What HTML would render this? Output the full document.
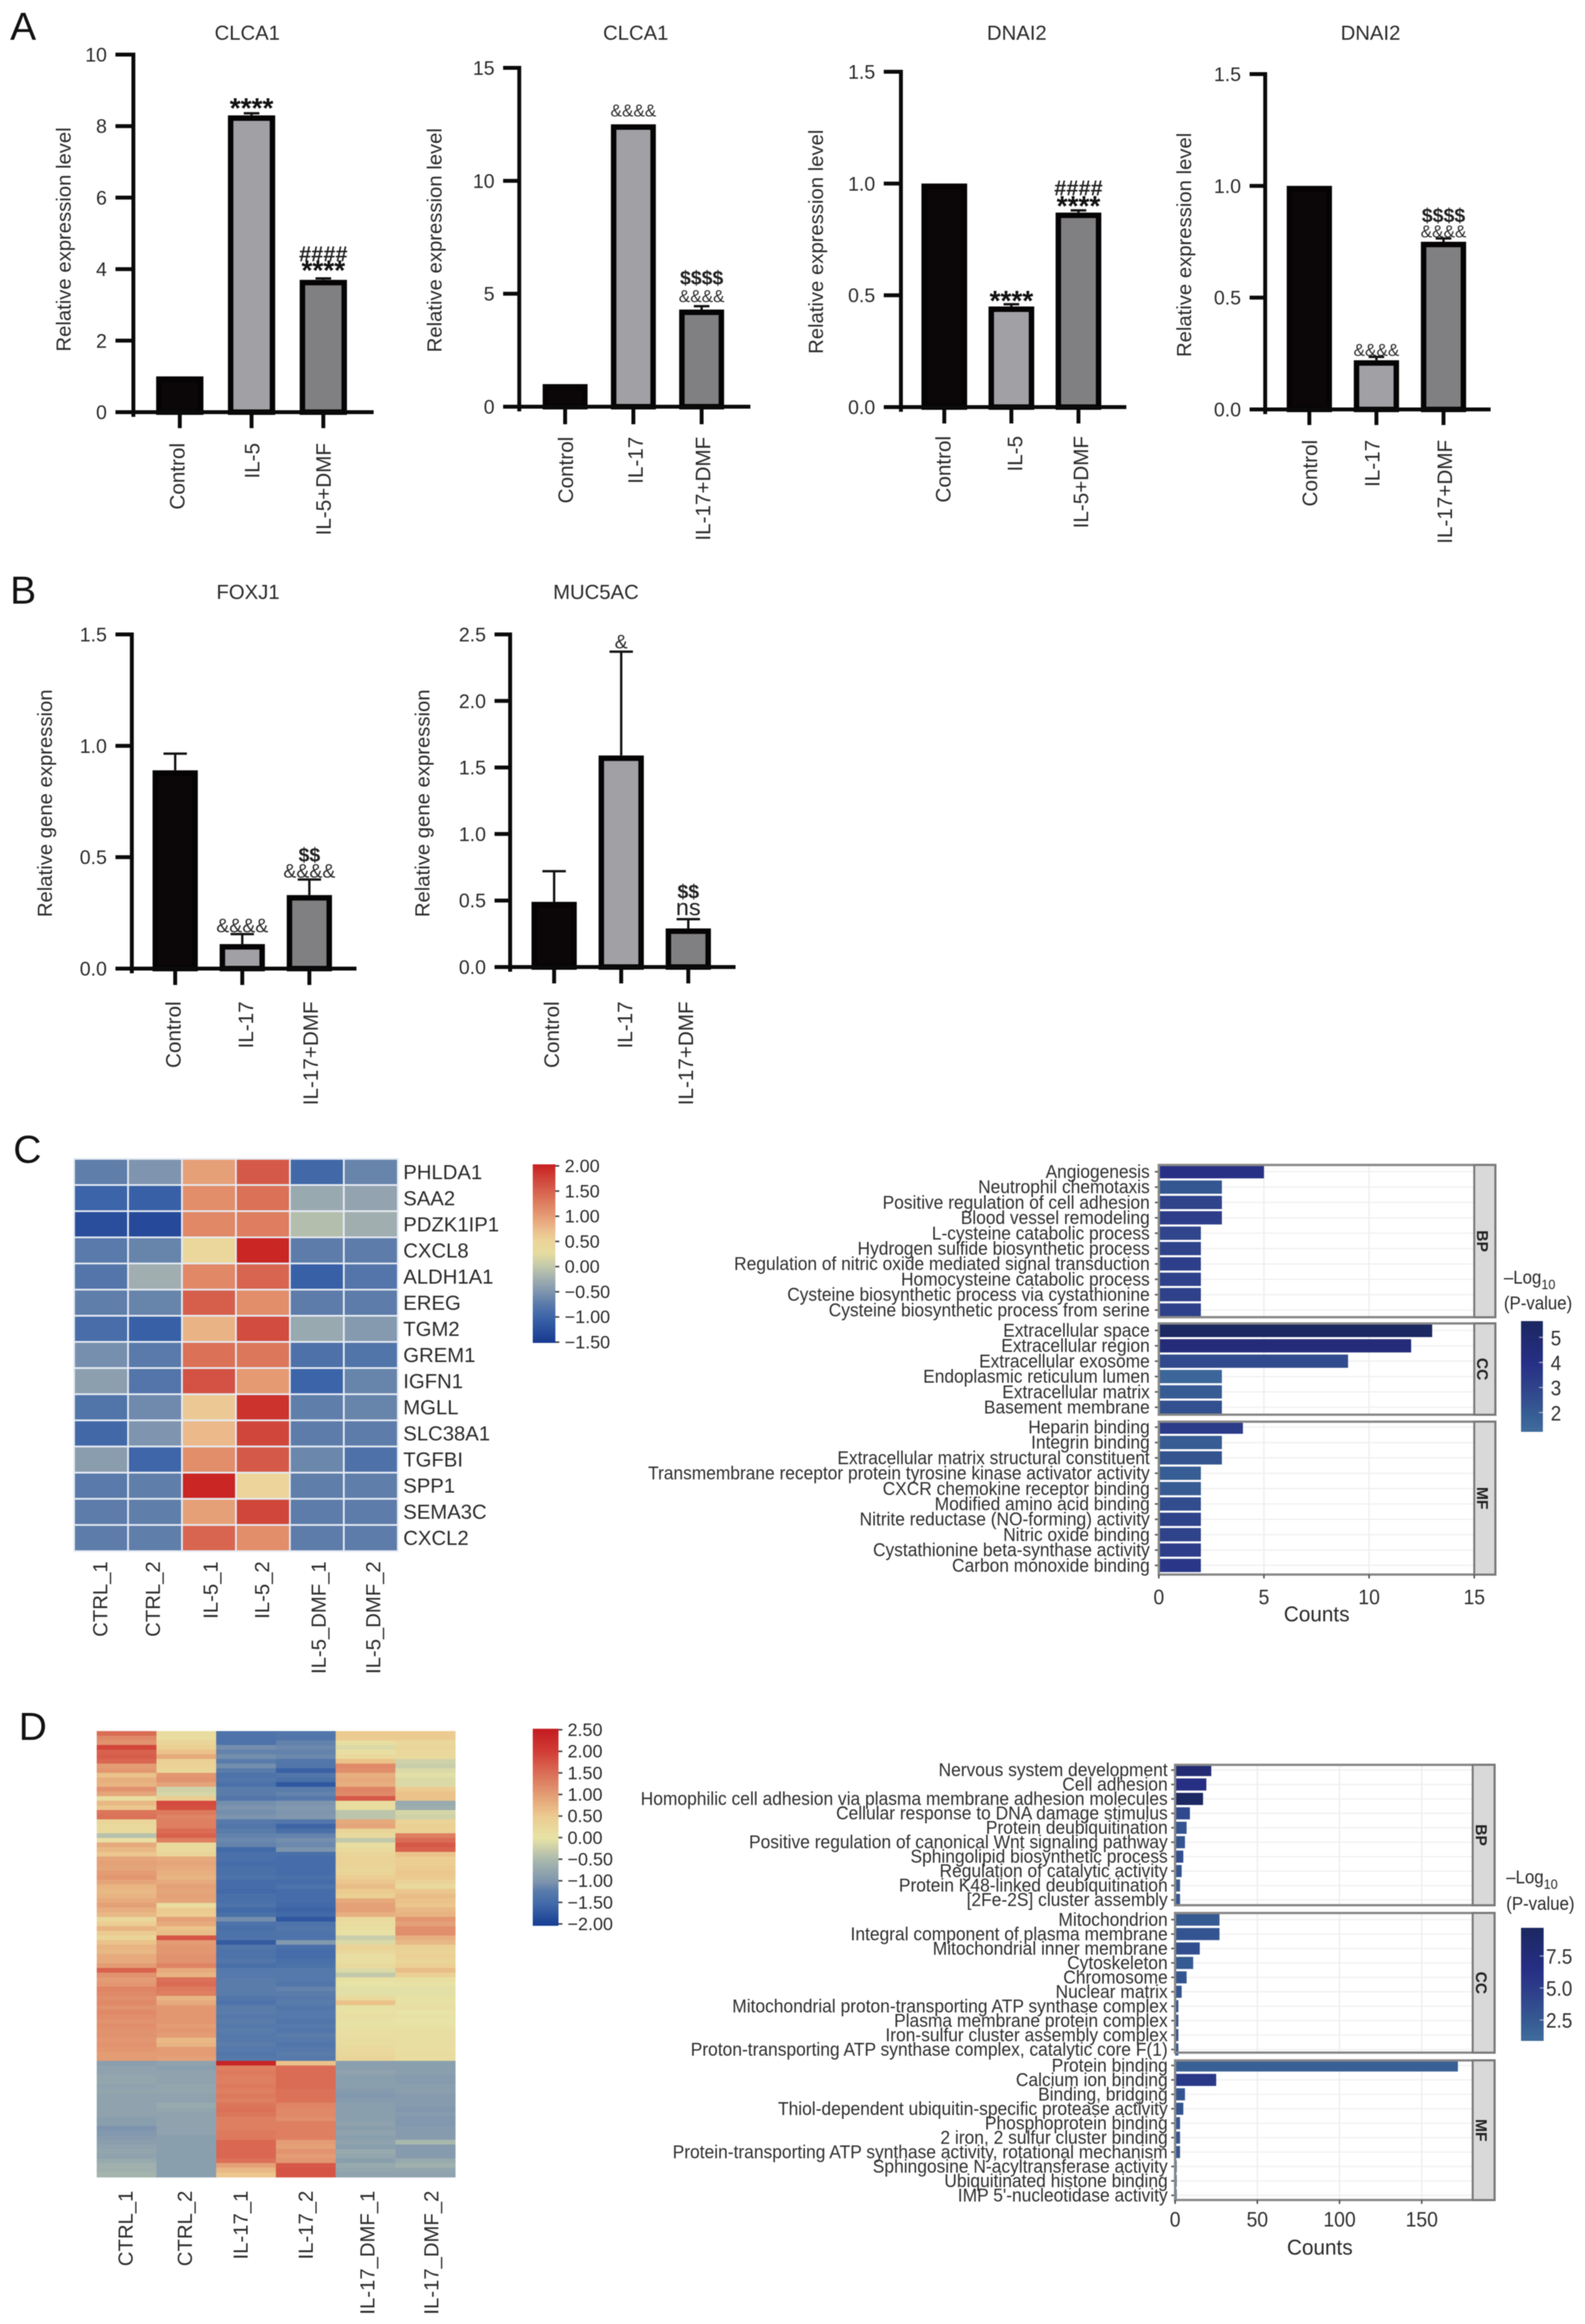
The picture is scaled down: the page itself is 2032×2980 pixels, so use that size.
<!DOCTYPE html>
<html lang="en">
<head>
<meta charset="utf-8">
<title>Expression bar charts, heatmaps and GO enrichment</title>
<style>
html,body{margin:0;padding:0;background:#fff;}
#figure{display:block;width:2032px;height:2980px;filter:blur(0.6px);font-family:"Liberation Sans",sans-serif;}
</style>
</head>
<body>
<svg id="figure" xmlns="http://www.w3.org/2000/svg" width="2032" height="2980" viewBox="0 0 2032 2980">
<defs id="grads"></defs>
<rect x="0" y="0" width="2032" height="2980" fill="#fff"></rect>
<text x="13" y="51" font-size="50" fill="#111">A</text>
<text x="13" y="774" font-size="50" fill="#111">B</text>
<text x="17" y="1491" font-size="50" fill="#111">C</text>
<text x="24" y="2231" font-size="50" fill="#111">D</text>
</svg>
<script>
/* ---------- Panel A / B bar chart data ---------- */
const a1Categories = ['Control', 'IL-5', 'IL-5+DMF'];
const a1Values = [1, 8.3, 3.7];
const a1Errors = [1, 8.36, 3.74];
const a1Ticks = [0, 2, 4, 6, 8, 10];
const a1Marks = [[], ['****'], ['****', '####']];

const a2Categories = ['Control', 'IL-17', 'IL-17+DMF'];
const a2Values = [1, 12.5, 4.3];
const a2Errors = [1, 12.5, 4.45];
const a2Ticks = [0, 5, 10, 15];
const a2Marks = [[], ['&&&&'], ['&&&&', '$$$$']];

const a3Categories = ['Control', 'IL-5', 'IL-5+DMF'];
const a3Values = [1, 0.45, 0.87];
const a3Errors = [1, 0.46, 0.88];
const a3Ticks = [0, 0.5, 1, 1.5];
const a3Marks = [[], ['****'], ['****', '####']];

const a4Categories = ['Control', 'IL-17', 'IL-17+DMF'];
const a4Values = [1, 0.22, 0.75];
const a4Errors = [1, 0.235, 0.765];
const a4Ticks = [0, 0.5, 1, 1.5];
const a4Marks = [[], ['&&&&'], ['&&&&', '$$$$']];

const b1Categories = ['Control', 'IL-17', 'IL-17+DMF'];
const b1Values = [0.89, 0.11, 0.33];
const b1Errors = [0.965, 0.155, 0.40];
const b1Ticks = [0, 0.5, 1, 1.5];
const b1Marks = [[], ['&&&&'], ['&&&&', '$$']];

const b2Categories = ['Control', 'IL-17', 'IL-17+DMF'];
const b2Values = [0.49, 1.59, 0.29];
const b2Errors = [0.72, 2.37, 0.36];
const b2Ticks = [0, 0.5, 1, 1.5, 2, 2.5];
const b2Marks = [[], ['&'], ['ns', '$$']];

/* ---------- Panel C heatmap data ---------- */
const cGenes = ['PHLDA1','SAA2','PDZK1IP1','CXCL8','ALDH1A1','EREG','TGM2','GREM1','IGFN1','MGLL','SLC38A1','TGFBI','SPP1','SEMA3C','CXCL2'];
const cSamples = ['CTRL_1','CTRL_2','IL-5_1','IL-5_2','IL-5_DMF_1','IL-5_DMF_2'];
const cMatrix = [
[-0.7,-0.5,0.95,1.55,-0.95,-0.65],
[-1.0,-1.05,1.1,1.35,-0.3,-0.35],
[-1.25,-1.3,1.15,1.25,-0.1,-0.25],
[-0.75,-0.65,0.45,1.95,-0.72,-0.72],
[-0.8,-0.25,1.15,1.45,-1.05,-0.8],
[-0.7,-0.65,1.5,1.1,-0.72,-0.72],
[-0.9,-1.05,0.8,1.65,-0.3,-0.45],
[-0.55,-0.75,1.35,1.3,-0.85,-0.82],
[-0.4,-0.8,1.6,1.0,-1.0,-0.65],
[-0.82,-0.6,0.6,1.85,-0.7,-0.65],
[-0.95,-0.5,0.75,1.7,-0.72,-0.72],
[-0.42,-0.98,1.1,1.55,-0.62,-0.85],
[-0.75,-0.7,1.95,0.5,-0.7,-0.7],
[-0.72,-0.7,0.95,1.7,-0.72,-0.72],
[-0.72,-0.7,1.45,1.1,-0.72,-0.72]
];
const cScaleValues = [-1.5,-1,-0.7,-0.5,-0.25,0,0.25,0.5,0.75,1,1.5,2];
const cScaleColors = ['#17388f','#3c64a8','#5f7eaa','#7f95af','#a0aeb0','#c2c8ab','#e5dca0','#ecd49a','#ebb98a','#e59a72','#d65f4c','#c7201f'];
const cLegendTicks = [2,1.5,1,0.5,0,-0.5,-1,-1.5];

/* ---------- Panel D heatmap data ---------- */
const dSamples = ['CTRL_1','CTRL_2','IL-17_1','IL-17_2','IL-17_DMF_1','IL-17_DMF_2'];
const dMatrix = [
[1.5,0.15,-1.35,-1.3,0.5,0.5],[1.2,0.15,-1.35,-1.3,0.5,0.5],[1.1,0.3,-1.35,-1.15,0.1,0.25],[1.9,0.4,-1.05,-1.1,-0.1,0.3],
[1.6,0.6,-1.15,-1.15,0.1,0.25],[1.65,0.85,-1.05,-1.1,0.2,0.2],[1.55,0.4,-1.2,-1.3,0.6,-0.2],[1.0,0.35,-1.05,-1.3,1.2,-0.25],
[1.05,0.3,-1.2,-1.6,1.15,-0.1],[0.6,1.05,-1.35,-1.3,0.8,-0.05],[0.8,1.1,-1.3,-1.4,0.85,-0.1],[0.75,0.9,-1.4,-1.7,0.8,-0.1],
[1.1,-0.2,-1.2,-1.2,1.25,0.5],[0.9,-0.15,-1.2,-1.15,1.2,0.6],[0.15,0.45,-1.3,-1.25,1.7,0.6],[0.7,1.85,-1.05,-1.0,0.15,-0.7],
[0.55,1.8,-1.0,-0.95,0.15,-0.65],[1.4,1.35,-1.05,-0.98,-0.35,-0.15],[1.45,1.25,-1.0,-0.95,-0.35,-0.2],[0.3,1.3,-1.25,-1.3,0.85,0.35],
[0.2,1.3,-1.3,-1.55,0.9,0.4],[0.2,1.5,-1.2,-1.4,0.3,0.35],[-0.4,1.6,-1.15,-1.15,0.2,1.3],[0.1,1.3,-1.1,-1.05,-0.3,1.5],
[0.85,0.2,-1.15,-1.1,0.1,1.7],[0.7,0.2,-1.5,-1.0,0.2,1.6],[0.55,0.3,-1.4,-1.4,0.3,0.6],[0.9,0.85,-1.4,-1.45,0.35,0.45],
[0.95,0.9,-1.45,-1.45,0.35,0.45],[0.9,0.85,-1.4,-1.45,0.3,0.5],[1.0,0.8,-1.4,-1.45,0.3,0.55],[1.05,0.75,-1.35,-1.4,0.45,0.5],
[0.9,0.85,-1.45,-1.45,0.55,0.35],[0.75,0.95,-1.45,-1.35,0.65,0.2],[0.7,0.9,-1.5,-1.45,0.5,0.55],[0.75,0.95,-1.4,-1.45,0.4,0.65],
[0.85,0.9,-1.4,-1.45,0.85,0.6],[0.95,0.15,-1.35,-1.5,0.95,0.55],[0.8,0.5,-1.5,-1.55,0.95,0.7],[0.7,0.45,-1.4,-1.5,0.8,0.75],
[0.25,0.95,-1.05,-1.7,0.2,1.05],[0.45,0.85,-1.35,-1.35,0.15,0.95],[0.75,0.6,-1.4,-1.3,0.1,1.15],[0.5,0.65,-1.35,-1.35,0.05,1.15],
[0.3,1.75,-1.35,-1.35,-0.25,0.8],[0.6,1.0,-1.65,-0.95,-0.1,0.7],[0.75,1.05,-1.3,-1.4,0.35,0.4],[0.7,1.05,-1.35,-1.45,0.25,0.35],
[0.85,1.1,-1.35,-1.45,0.1,0.4],[0.85,1.1,-1.3,-1.4,0.1,0.3],[1.0,1.25,-1.4,-1.35,0.2,0.4],[1.6,0.85,-1.25,-1.25,-0.1,0.65],
[1.1,0.75,-1.25,-1.25,-0.3,0.4],[1.0,1.45,-1.2,-1.25,0.05,0.1],[1.05,1.5,-1.2,-1.3,0,0.05],[1.25,1.35,-1.2,-1.15,-0.05,-0.05],
[1.2,1.3,-1.2,-1.2,-0.05,-0.05],[1.15,0.75,-1.3,-1.25,0.2,0.05],[1.2,0.85,-1.35,-1.2,0.6,0.05],[1.1,1.05,-1.2,-1.3,0.05,0.1],
[1.2,1.05,-1.2,-1.25,0.05,0],[1.15,1.05,-1.25,-1.25,0.1,0.05],[1.1,1.05,-1.2,-1.3,0.05,0],[1.15,1.0,-1.25,-1.25,0.05,0.05],
[1.1,1.05,-1.2,-1.3,0.1,0.1],[1.1,1.0,-1.25,-1.2,0.1,0.1],[1.05,0.7,-1.25,-1.25,0.15,0.1],[1.1,0.75,-1.2,-1.3,0.15,0.1],
[1.05,1.0,-1.25,-1.25,0.2,0.1],[1.0,1.0,-1.3,-1.2,0.25,0.15],[1.0,0.95,-1.25,-1.25,0.3,0.15],
[-0.85,-0.8,2.35,0.6,-0.85,-0.85],[-0.8,-0.85,1.3,1.5,-0.85,-0.85],[-0.8,-0.8,1.35,1.5,-0.8,-0.85],[-0.75,-0.8,1.3,1.5,-0.85,-0.9],
[-0.75,-0.8,1.3,1.5,-0.85,-0.9],[-0.8,-0.75,1.35,1.5,-0.85,-0.85],[-0.75,-0.75,1.3,1.45,-0.9,-0.85],[-0.8,-0.8,1.35,1.45,-0.95,-0.9],
[-0.8,-0.8,1.3,1.45,-0.9,-0.9],[-0.8,-0.7,1.4,1.25,-0.85,-0.9],[-0.8,-0.75,1.45,1.2,-0.85,-0.95],[-0.8,-0.8,1.4,1.2,-0.85,-0.9],
[-0.85,-0.8,1.3,1.15,-0.85,-0.95],[-0.85,-0.8,1.3,1.3,-0.8,-0.95],[-1.0,-0.8,1.3,1.3,-0.85,-0.9],[-0.95,-0.8,1.35,1.3,-0.8,-0.9],
[-0.9,-0.85,1.35,1.3,-0.85,-0.9],[-0.85,-0.85,1.55,1.0,-0.8,-0.5],[-0.8,-0.85,1.55,0.95,-0.85,-0.9],[-0.75,-0.85,1.55,1.1,-0.7,-0.9],
[-0.8,-0.85,1.55,1.0,-0.75,-0.9],[-0.7,-0.85,1.45,1.05,-0.85,-0.7],[-0.6,-0.85,0.95,1.7,-0.7,-0.6],[-0.6,-0.85,0.7,1.75,-0.75,-0.75],
[-0.55,-0.85,0.55,1.75,-0.8,-0.8]
];
const dScaleValues = [-2,-1.5,-1.2,-1,-0.5,0,0.5,1,1.5,2,2.5];
const dScaleColors = ['#153c93','#426aa8','#5a7cab','#7d94ae','#a9b8ad','#e8e3a6','#eccb90','#e39c74','#da6c55','#d13b34','#c31c20'];
const dLegendTicks = [2.5,2,1.5,1,0.5,0,-0.5,-1,-1.5,-2];

/* ---------- GO enrichment (panel C) ---------- */
const cBpTerms = ['Angiogenesis','Neutrophil chemotaxis','Positive regulation of cell adhesion','Blood vessel remodeling','L-cysteine catabolic process','Hydrogen sulfide biosynthetic process','Regulation of nitric oxide mediated signal transduction','Homocysteine catabolic process','Cysteine biosynthetic process via cystathionine','Cysteine biosynthetic process from serine'];
const cBpCounts = [5,3,3,3,2,2,2,2,2,2];
const cBpLogP = [3.9,2.2,3,3.3,2.9,3,3.2,3.1,3.1,3.1];
const cCcTerms = ['Extracellular space','Extracellular region','Extracellular exosome','Endoplasmic reticulum lumen','Extracellular matrix','Basement membrane'];
const cCcCounts = [13,12,9,3,3,3];
const cCcLogP = [5.6,4.5,2.7,1.5,2,2.5];
const cMfTerms = ['Heparin binding','Integrin binding','Extracellular matrix structural constituent','Transmembrane receptor protein tyrosine kinase activator activity','CXCR chemokine receptor binding','Modified amino acid binding','Nitrite reductase (NO-forming) activity','Nitric oxide binding','Cystathionine beta-synthase activity','Carbon monoxide binding'];
const cMfCounts = [4,3,3,2,2,2,2,2,2,2];
const cMfLogP = [3.4,2,2.3,1.9,2,2.6,3,3,3.3,3.6];
const cCountTicks = [0,5,10,15];
const cColorbarTicks = [5,4,3,2];

/* ---------- GO enrichment (panel D) ---------- */
const dBpTerms = ['Nervous system development','Cell adhesion','Homophilic cell adhesion via plasma membrane adhesion molecules','Cellular response to DNA damage stimulus','Protein deubiquitination','Positive regulation of canonical Wnt signaling pathway','Sphingolipid biosynthetic process','Regulation of catalytic activity','Protein K48-linked deubiquitination','[2Fe-2S] cluster assembly'];
const dBpCounts = [22,19,17,9,7,6,5,4,3,3];
const dBpLogP = [8,6.5,9.5,4,3,3,3.5,3,2.5,3];
const dCcTerms = ['Mitochondrion','Integral component of plasma membrane','Mitochondrial inner membrane','Cytoskeleton','Chromosome','Nuclear matrix','Mitochondrial proton-transporting ATP synthase complex','Plasma membrane protein complex','Iron-sulfur cluster assembly complex','Proton-transporting ATP synthase complex, catalytic core F(1)'];
const dCcCounts = [27,27,15,11,7,4,2,2,2,2];
const dCcLogP = [2.5,3,3.5,2.5,3,3,3,3,3,3];
const dMfTerms = ['Protein binding','Calcium ion binding','Binding, bridging','Thiol-dependent ubiquitin-specific protease activity','Phosphoprotein binding','2 iron, 2 sulfur cluster binding','Protein-transporting ATP synthase activity, rotational mechanism','Sphingosine N-acyltransferase activity','Ubiquitinated histone binding',"IMP 5'-nucleotidase activity"];
const dMfCounts = [172,25,6,5,3,3,3,1,1,1];
const dMfLogP = [2,5.5,3,3,3,3,3,3,3,3];
const dCountTicks = [0,50,100,150];
const dColorbarTicks = [7.5,5,2.5];

/* ---------- helpers ---------- */
const NS = 'http://www.w3.org/2000/svg';
const root = document.getElementById('figure');
const INK = '#2b2b2b';

function make(tag, parent, attrs, text) {
  const el = document.createElementNS(NS, tag);
  for (const k in attrs) el.setAttribute(k, attrs[k]);
  if (text !== undefined) el.textContent = text;
  parent.appendChild(el);
  return el;
}
function hexToRgb(h) { return [parseInt(h.slice(1,3),16), parseInt(h.slice(3,5),16), parseInt(h.slice(5,7),16)]; }
function interpColor(v, vals, cols) {
  if (v <= vals[0]) return cols[0];
  for (let i = 1; i < vals.length; i++) {
    if (v <= vals[i]) {
      const t = (v - vals[i-1]) / (vals[i] - vals[i-1]);
      const a = hexToRgb(cols[i-1]), b = hexToRgb(cols[i]);
      return 'rgb(' + a.map((c, j) => Math.round(c + (b[j] - c) * t)).join(',') + ')';
    }
  }
  return cols[cols.length - 1];
}
function markStyle(s, ampSize) {
  const c = s.charAt(0);
  if (c === '*') return { size: 36, weight: 'bold', shift: 15, fill: '#111' };
  if (c === '#') return { size: 28, weight: 'bold', shift: 10, fill: '#222' };
  if (c === '$') return { size: 25, weight: 'bold', shift: 9, fill: '#222' };
  if (c === 'n') return { size: 30, weight: 'normal', shift: 7, fill: '#222' };
  return { size: ampSize, weight: 'normal', shift: 8, fill: '#2e2e2e' };
}

/* ---------- bar chart ---------- */
function drawBarChart(L, title, categories, values, errors, ticks, decimals, yLabel, marks) {
  const g = make('g', root, {});
  
  
  const maxTick = ticks[ticks.length - 1];
  const yScale = v => L.yBase - (v / maxTick) * (L.yBase - L.yTop);
  const xScale = i => L.firstCenter + i * L.step;
  const fills = ['#0b0608', '#a0a0a5', '#808082'];

  const t = make('text', g, { x: L.titleX, y: L.titleY + 9, 'font-size': 26, 'text-anchor': 'middle', fill: INK }, title);
  
  

  const yl = make('text', g, { transform: 'translate(' + (L.yLabelX + 9) + ',' + L.yLabelY + ') rotate(-90)', 'font-size': 26, 'text-anchor': 'middle', fill: INK }, yLabel);
  
  

  values.forEach((v, i) => {
    const cx = xScale(i), sw = 7;
    const bar = make('rect', g, { x: cx - L.barW / 2 + sw / 2, y: yScale(v) + sw / 2, width: L.barW - sw, height: Math.max(0, L.yBase - yScale(v) - sw / 2), fill: fills[i], stroke: '#050304', 'stroke-width': sw });
    
    

    const top = errors[i];
    if (top > v) {
      const stem = make('line', g, { x1: cx, x2: cx, y1: yScale(v), y2: yScale(top), stroke: '#111', 'stroke-width': 3 });
      
      
      const cap = make('line', g, { x1: cx - L.capHalf, x2: cx + L.capHalf, y1: yScale(top), y2: yScale(top), stroke: '#111', 'stroke-width': 3 });
      
      
    }

    marks[i].forEach((m, k) => {
      const st = markStyle(m, L.ampSize);
      const firstDy = Array.isArray(L.dy1) ? L.dy1[i] : L.dy1;
      const cy = yScale(Math.max(v, top)) + (k === 0 ? firstDy : L.dy2);
      const mk = make('text', g, { x: cx, y: cy + st.shift, 'font-size': st.size, 'font-weight': st.weight, 'text-anchor': 'middle', fill: st.fill }, m);
      
      
    });

    const tick = make('line', g, { x1: cx, x2: cx, y1: L.yBase, y2: L.tickBottom, stroke: '#0a0a0a', 'stroke-width': 5 });
    
    

    const lab = make('text', g, { transform: 'translate(' + (cx + L.labelNudges[i]) + ',' + L.labelTop + ') rotate(-90)', 'font-size': 26.5, 'text-anchor': 'end', fill: INK }, categories[i]);
    
    
  });

  ticks.forEach(v => {
    const tk = make('line', g, { x1: L.tickLeft, x2: L.axisX, y1: yScale(v), y2: yScale(v), stroke: '#0a0a0a', 'stroke-width': 5 });
    
    
    const tl = make('text', g, { x: L.tickLeft - 11, y: yScale(v) + 9, 'font-size': 25, 'text-anchor': 'end', fill: INK }, v.toFixed(decimals));
    
    
  });

  const yAxis = make('line', g, { x1: L.axisX, x2: L.axisX, y1: L.yTop - 2.5, y2: L.yBase + 6, stroke: '#0a0a0a', 'stroke-width': 5 });
  
  
  const xAxis = make('line', g, { x1: L.tickLeft, x2: L.xEnd, y1: L.yBase, y2: L.yBase, stroke: '#0a0a0a', 'stroke-width': 5 });
  
  
}

/* ---------- heatmap ---------- */
function drawHeatmap(L, matrix, rowLabels, colLabels, scaleVals, scaleCols) {
  const g = make('g', root, {});
  
  
  const nRows = matrix.length, nCols = matrix[0].length;
  const cw = (L.right - L.left) / nCols, rh = (L.bottom - L.top) / nRows;
  const xScale = c => L.left + c * cw;
  const yScale = r => L.top + r * rh;
  matrix.forEach((row, r) => row.forEach((v, c) => {
    const cell = make('rect', g, { x: xScale(c), y: yScale(r), width: cw + (L.grid ? 0 : 0.6), height: rh + (L.grid ? 0 : 0.6), fill: interpColor(v, scaleVals, scaleCols) });
    if (L.grid) { cell.setAttribute('stroke', '#e6ebf3'); cell.setAttribute('stroke-width', L.grid); }
    
    
  }));
  if (rowLabels) rowLabels.forEach((name, r) => {
    const t = make('text', g, { x: L.right + 7, y: yScale(r) + rh / 2 + 9, 'font-size': 26, fill: INK }, name);
    
    
  });
  colLabels.forEach((name, c) => {
    const nudge = L.nudges ? L.nudges[c] : 0;
    const t = make('text', g, { transform: 'translate(' + (xScale(c) + cw / 2 + 9 + nudge) + ',' + L.labelTop + ') rotate(-90)', 'font-size': 26, 'text-anchor': 'end', fill: INK }, name);
    
    
  });
}

function drawHeatLegend(L, id, scaleVals, scaleCols, ticks) {
  const g = make('g', root, {});
  
  
  const defs = document.getElementById('grads');
  const grad = make('linearGradient', defs, { id: id, x1: 0, y1: 1, x2: 0, y2: 0 });
  const lo = scaleVals[0], hi = scaleVals[scaleVals.length - 1];
  scaleVals.forEach((v, i) => {
    make('stop', grad, { offset: ((v - lo) / (hi - lo) * 100) + '%', 'stop-color': scaleCols[i] });
  });
  const bar = make('rect', g, { x: L.x, y: L.top, width: L.w, height: L.bottom - L.top, fill: 'url(#' + id + ')' });
  
  
  const yScale = v => L.tickTopY + (ticks[0] - v) / (ticks[0] - ticks[ticks.length - 1]) * (L.tickBottomY - L.tickTopY);
  ticks.forEach(v => {
    const tk = make('line', g, { x1: L.x + L.w, x2: L.x + L.w + 5, y1: yScale(v), y2: yScale(v), stroke: '#444', 'stroke-width': 2 });
    
    
    const label = (v < 0 ? '\u2212' : '') + Math.abs(v).toFixed(2);
    const t = make('text', g, { x: L.labelX, y: yScale(v) + 8, 'font-size': 23, fill: INK }, label);
    
    
  });
}

/* ---------- GO chart ---------- */
const logPStops = [0, 0.17, 0.4, 0.62, 0.8, 1];
const logPColors = ['#406c9c', '#365c93', '#2f438b', '#272f86', '#222b74', '#1b2860'];

function drawGoPanel(g, L, P, terms, counts, logP, xScale, colorOf, stripName) {
  const panel = make('rect', g, { x: L.x0, y: P.top, width: L.panelRight - L.x0, height: P.bottom - P.top, fill: '#fff' });
  
  
  L.gridTicks.forEach(v => {
    const gl = make('line', g, { x1: xScale(v), x2: xScale(v), y1: P.top, y2: P.bottom, stroke: '#ececec', 'stroke-width': 1.5 });
    
    
  });
  terms.forEach((term, i) => {
    const cy = P.first + i * L.rowStep;
    const hl = make('line', g, { x1: L.x0, x2: L.panelRight, y1: cy, y2: cy, stroke: '#efefef', 'stroke-width': 1.5 });
    
    
    const bar = make('rect', g, { x: L.x0, y: cy - L.barH / 2, width: xScale(counts[i]) - L.x0, height: L.barH, fill: colorOf(logP[i]) });
    
    
    const tk = make('line', g, { x1: L.x0 - 5, x2: L.x0, y1: cy, y2: cy, stroke: '#555', 'stroke-width': 2 });
    
    
    const t = make('text', g, { transform: 'translate(' + L.labelRight + ',' + (cy + 8) + ') scale(' + L.textScale + ',1)', 'font-size': 24, 'text-anchor': 'end', fill: '#303030' }, term);
    
    
  });
  const border = make('rect', g, { x: L.x0, y: P.top, width: L.stripRight - L.x0, height: P.bottom - P.top, fill: 'none', stroke: '#888', 'stroke-width': 3 });
  
  
  const strip = make('rect', g, { x: L.panelRight, y: P.top, width: L.stripRight - L.panelRight, height: P.bottom - P.top, fill: '#d9d9d9', stroke: '#777', 'stroke-width': 2.5 });
  
  
  const sx = (L.panelRight + L.stripRight) / 2 - 10, sy = (P.top + P.bottom) / 2;
  const st = make('text', g, { transform: 'translate(' + sx + ',' + sy + ') rotate(90)', 'font-size': 20, 'font-weight': 'bold', 'text-anchor': 'middle', fill: '#222' }, stripName);
  
  
}

function drawGoChart(L, sections, countTicks, colorbarTicks, barDomain) {
  const g = make('g', root, {});
  
  
  const xScale = v => L.x0 + v * L.pxPerCount;
  const colorOf = p => interpColor((p - barDomain[0]) / (barDomain[1] - barDomain[0]), logPStops, logPColors);
  L.gridTicks = countTicks;
  sections.forEach(s => drawGoPanel(g, L, s.pos, s.terms, s.counts, s.logP, xScale, colorOf, s.name));

  countTicks.forEach(v => {
    const tk = make('line', g, { x1: xScale(v), x2: xScale(v), y1: L.axisY, y2: L.axisY + 5, stroke: '#555', 'stroke-width': 2 });
    
    
    const t = make('text', g, { transform: 'translate(' + xScale(v) + ',' + (L.tickLabelY + 10) + ') scale(.92,1)', 'font-size': 27, 'text-anchor': 'middle', fill: '#303030' }, String(v));
    
    
  });
  const xt = make('text', g, { transform: 'translate(' + L.countsX + ',' + (L.countsY + 10) + ') scale(.95,1)', 'font-size': 28, 'text-anchor': 'middle', fill: '#2a2a2a' }, 'Counts');
  
  

  const lt = make('text', g, { transform: 'translate(' + L.legendX + ',' + (L.legendY1 + 6) + ') scale(.9,1)', 'font-size': 24, fill: '#2a2a2a' }, '\u2013Log');
  make('tspan', lt, { dy: 7, 'font-size': 18 }, '10');
  
  
  const lp = make('text', g, { transform: 'translate(' + L.legendX + ',' + (L.legendY2 + 8) + ') scale(.9,1)', 'font-size': 24, fill: '#2a2a2a' }, '(P-value)');
  
  

  const defs = document.getElementById('grads');
  const grad = make('linearGradient', defs, { id: L.gradId, x1: 0, y1: 1, x2: 0, y2: 0 });
  logPStops.forEach((s, i) => make('stop', grad, { offset: (s * 100) + '%', 'stop-color': logPColors[i] }));
  const bar = make('rect', g, { x: L.barX, y: L.barTop, width: L.barW2, height: L.barBottom - L.barTop, fill: 'url(#' + L.gradId + ')' });
  
  
  const barY = p => L.barBottom - (p - barDomain[0]) / (barDomain[1] - barDomain[0]) * (L.barBottom - L.barTop);
  colorbarTicks.forEach(v => {
    const tk = make('line', g, { x1: L.barX + L.barW2 - 5, x2: L.barX + L.barW2, y1: barY(v), y2: barY(v), stroke: '#aab', 'stroke-width': 1.5 });
    
    
    const t = make('text', g, { transform: 'translate(' + L.barLabelX + ',' + (barY(v) + 10) + ') scale(.9,1)', 'font-size': 27, fill: '#303030' }, L.barDecimals ? v.toFixed(L.barDecimals) : String(v));
    
    
  });
}

/* ---------- render ---------- */
const lvl = 'Relative expression level', gene = 'Relative gene expression';
drawBarChart({axisX:171,yTop:70,yBase:528.5,xEnd:479,tickLeft:148,firstCenter:230.5,step:92,barW:60.6,tickBottom:549,labelTop:568,labelNudges:[6,10,9.5],titleX:317,titleY:42,yLabelX:81.5,yLabelY:307,dy1:[0,-9,-13],dy2:-32,ampSize:22,capHalf:10},
  'CLCA1', a1Categories, a1Values, a1Errors, a1Ticks, 0, lvl, a1Marks);
drawBarChart({axisX:665.7,yTop:87,yBase:521.5,xEnd:962,tickLeft:645,firstCenter:724.5,step:87.5,barW:57.6,tickBottom:544,labelTop:560,labelNudges:[10,12,11],titleX:815,titleY:42,yLabelX:557,yLabelY:308,dy1:[0,-18,-13],dy2:-37,ampSize:22,capHalf:10},
  'CLCA1', a2Categories, a2Values, a2Errors, a2Ticks, 0, lvl, a2Marks);
drawBarChart({axisX:1155,yTop:92,yBase:522,xEnd:1444,tickLeft:1133,firstCenter:1210.6,step:86,barW:58.6,tickBottom:543,labelTop:559,labelNudges:[8,14,12.6],titleX:1303.6,titleY:42,yLabelX:1046,yLabelY:310,dy1:[0,-7,-8],dy2:-29,ampSize:22,capHalf:10},
  'DNAI2', a3Categories, a3Values, a3Errors, a3Ticks, 1, lvl, a3Marks);
drawBarChart({axisX:1622,yTop:95,yBase:525,xEnd:1911,tickLeft:1602,firstCenter:1678.6,step:86,barW:58,tickBottom:545,labelTop:564,labelNudges:[10,4,11],titleX:1757,titleY:42,yLabelX:1518,yLabelY:314,dy1:-9,dy2:-30,ampSize:22,capHalf:10},
  'DNAI2', a4Categories, a4Values, a4Errors, a4Ticks, 1, lvl, a4Marks);
drawBarChart({axisX:169,yTop:813.5,yBase:1242,xEnd:457,tickLeft:148,firstCenter:224.6,step:86,barW:58,tickBottom:1263,labelTop:1284,labelNudges:[7,14,11],titleX:318,titleY:759,yLabelX:57.6,yLabelY:1030,dy1:-10,dy2:-32,ampSize:25,capHalf:15},
  'FOXJ1', b1Categories, b1Values, b1Errors, b1Ticks, 1, gene, b1Marks);
drawBarChart({axisX:654,yTop:813.5,yBase:1240,xEnd:943,tickLeft:634,firstCenter:710.4,step:86,barW:58,tickBottom:1261,labelTop:1284,labelNudges:[6,14,6],titleX:764,titleY:759,yLabelX:541.5,yLabelY:1030,dy1:-12,dy2:-36,ampSize:25,capHalf:15},
  'MUC5AC', b2Categories, b2Values, b2Errors, b2Ticks, 1, gene, b2Marks);

drawHeatmap({left:95,right:510,top:1486,bottom:1989,grid:2.2,labelTop:2002,nudges:[-1,-3,2,-1,2,3]}, cMatrix, cGenes, cSamples, cScaleValues, cScaleColors);
drawHeatLegend({x:683,w:29,top:1493,bottom:1722,tickTopY:1495,tickBottomY:1721,labelX:724}, 'cHeatGrad', cScaleValues, cScaleColors, cLegendTicks);

drawHeatmap({left:124,right:583.4,top:2219.7,bottom:2791.5,grid:0,labelTop:2809,nudges:[-1.5,-2,-7,0,2.5,8]}, dMatrix, null, dSamples, dScaleValues, dScaleColors);
drawHeatLegend({x:683,w:33,top:2216.7,bottom:2469.4,tickTopY:2218,tickBottomY:2467,labelX:727.6}, 'dHeatGrad', dScaleValues, dScaleColors, dLegendTicks);

drawGoChart({x0:1485.6,pxPerCount:26.96,panelRight:1890,stripRight:1917,rowStep:19.7,barH:17,labelRight:1474,textScale:0.9275,axisY:2019,tickLabelY:2047,countsX:1688,countsY:2069,legendX:1928,legendY1:1640,legendY2:1671,gradId:'cLogGrad',barX:1950,barW2:28,barTop:1694,barBottom:1836,barLabelX:1988,barDecimals:0},
  [{name:'BP',terms:cBpTerms,counts:cBpCounts,logP:cBpLogP,pos:{top:1493.8,bottom:1689,first:1502.5}},
   {name:'CC',terms:cCcTerms,counts:cCcCounts,logP:cCcLogP,pos:{top:1697,bottom:1814,first:1706}},
   {name:'MF',terms:cMfTerms,counts:cMfCounts,logP:cMfLogP,pos:{top:1823,bottom:2019,first:1830}}],
  cCountTicks, cColorbarTicks, [1.23, 5.65]);

drawGoChart({x0:1506.5,pxPerCount:2.108,panelRight:1888,stripRight:1916,rowStep:18.5,barH:15.5,labelRight:1497,textScale:0.93,axisY:2821,tickLabelY:2845,countsX:1692,countsY:2881,legendX:1931,legendY1:2409,legendY2:2441,gradId:'dLogGrad',barX:1950,barW2:29,barTop:2472,barBottom:2617,barLabelX:1982,barDecimals:1},
  [{name:'BP',terms:dBpTerms,counts:dBpCounts,logP:dBpLogP,pos:{top:2263,bottom:2443,first:2269.7}},
   {name:'CC',terms:dCcTerms,counts:dCcCounts,logP:dCcLogP,pos:{top:2453,bottom:2632,first:2461.5}},
   {name:'MF',terms:dMfTerms,counts:dMfCounts,logP:dMfLogP,pos:{top:2642,bottom:2821,first:2648.5}}],
  dCountTicks, dColorbarTicks, [0.87, 9.7]);
</script>
</body>
</html>
